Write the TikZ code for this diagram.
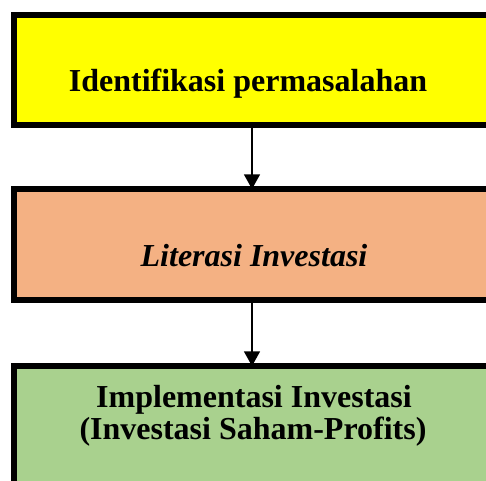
\documentclass[tikz,border=0pt]{standalone}
\usepackage{fontspec}
\setmainfont{Liberation Serif}
\usetikzlibrary{arrows.meta, positioning}

\definecolor{boxyellow}{HTML}{FFFF00}
\definecolor{boxorange}{HTML}{F4B183}
\definecolor{boxgreen}{HTML}{A9D18E}

\begin{document}
\begin{tikzpicture}[
      x=0.75pt, y=-0.75pt,
      block/.style={draw, rectangle, line width=4.5pt, minimum width=357pt, inner sep=0pt, outer sep=0pt},
      txt/.style={font=\fontsize{24}{26}\selectfont\bfseries, anchor=base, inner sep=0pt},
      >={Triangle[length=11pt, width=12pt]}
    ]
    \useasboundingbox (0,0) rectangle (486,481);
    \clip (0,0) rectangle (486,481);

    % Boxes
    \node[block, fill=boxyellow, minimum height=82.5pt] (problem) at (252,70) {};
    \node[block, fill=boxorange, minimum height=83.25pt] (literacy) at (252,244.5) {};
    \node[block, fill=boxgreen, minimum height=105pt] (implement) at (252,436) {};

    % Texts
    \node[txt] (problemtext) at (248,92) {Identifikasi permasalahan};
    \node[txt, font=\fontsize{24}{26}\selectfont\bfseries\itshape] (literacytext) at (254,267) {Literasi Investasi};
    \node[txt] (implementtext) at (254,407) {Implementasi Investasi};
    \node[txt] (implementtext2) at (253,439) {(Investasi Saham-Profits)};

    % Arrows
    \draw[->, line width=1.2pt] (problem.south) -- (literacy.north);
    \draw[->, line width=1.2pt] (literacy.south) -- (implement.north);

  \end{tikzpicture}
\end{document}
